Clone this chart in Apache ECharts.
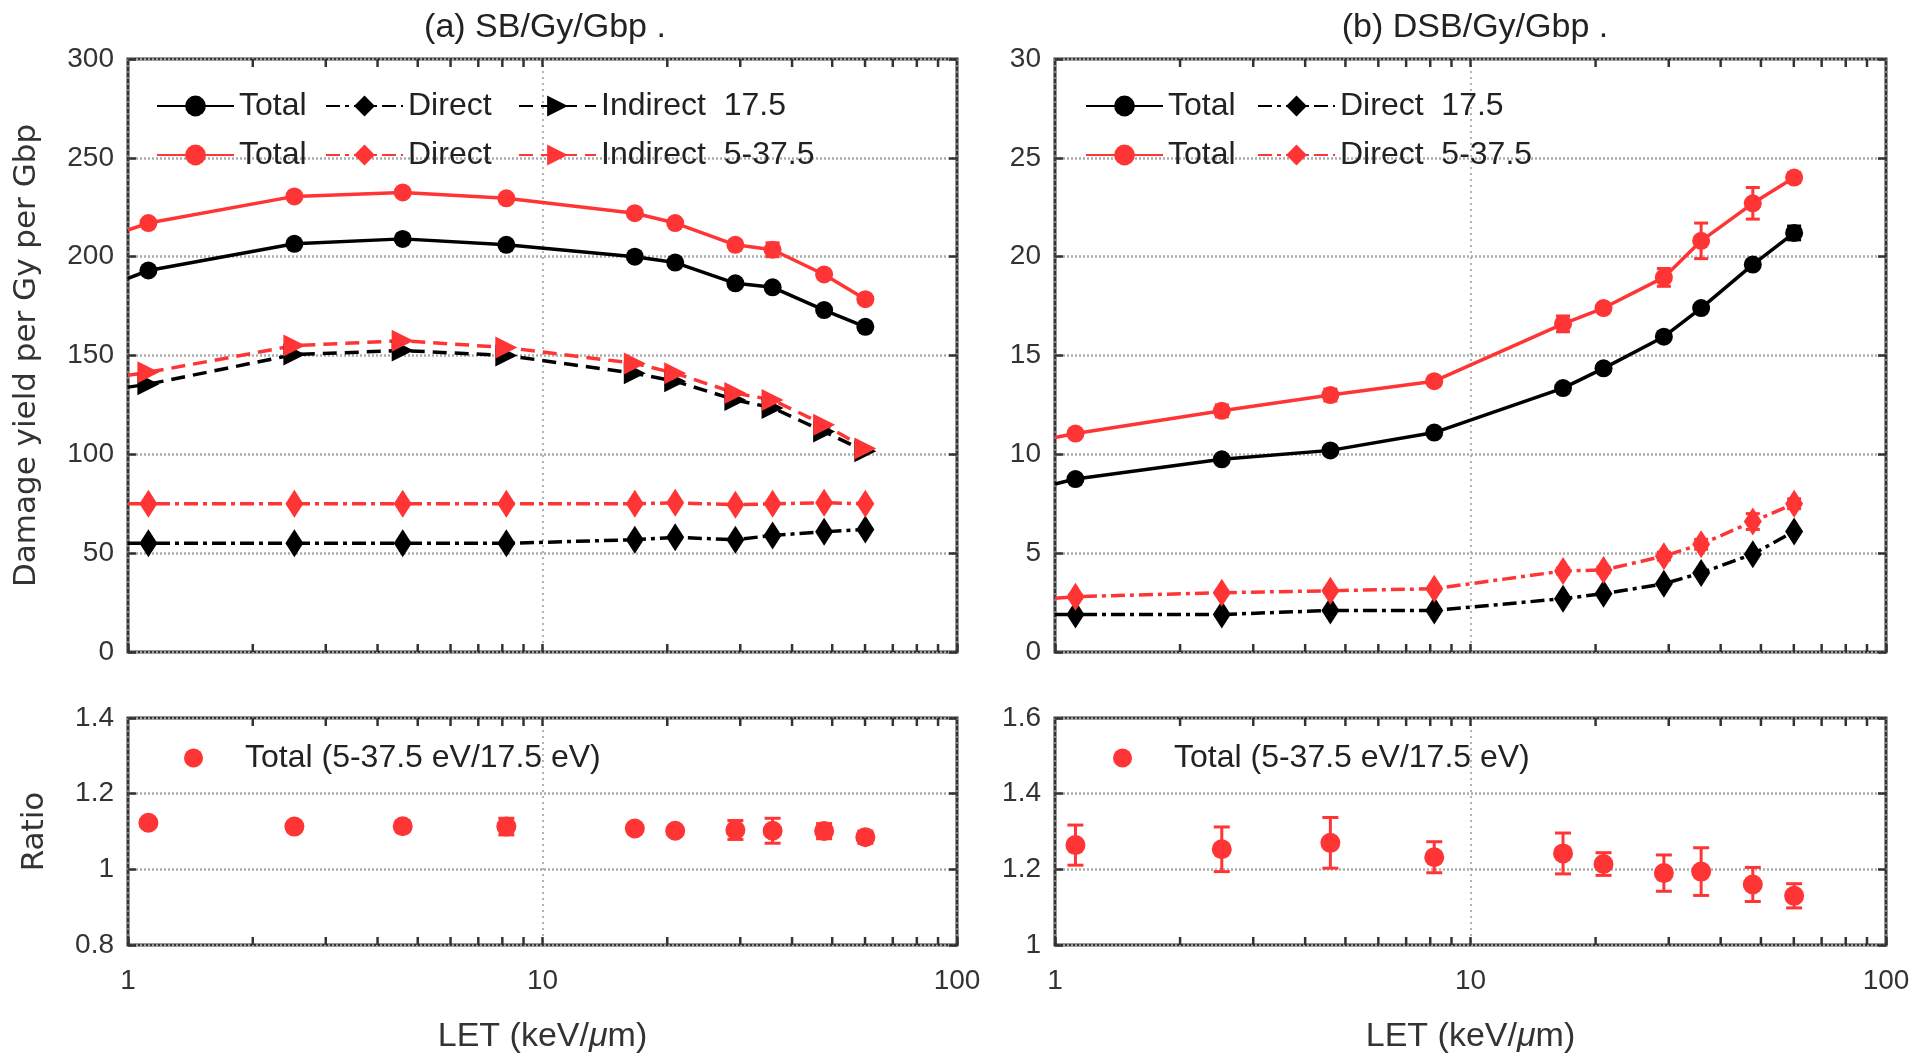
<!DOCTYPE html>
<html>
<head>
<meta charset="utf-8">
<script src="https://cdn.jsdelivr.net/npm/echarts@6/dist/echarts.min.js"></script>
<style>
html,body{margin:0;padding:0;background:#fff;}
#chart{width:1920px;height:1062px;}
</style>
</head>
<body>
<div id="chart"></div>
<script>
// ---------- DATA ----------
const LET = [1.12, 2.52, 4.6, 8.18, 16.7, 20.9, 29.2, 35.9, 47.8, 60.1];
const X_MINOR_TICKS = [2, 3, 4, 5, 6, 7, 8, 9, 20, 30, 40, 50, 60, 70, 80, 90];
const X_TOP_TICKS = [10];

// (a) SB/Gy/Gbp — value where each line meets the left edge (LET = 1), then the points
const SB_TOTAL_175_EDGE = 189;
const SB_TOTAL_175 = [193, 206.5, 209, 206, 200, 197, 186.5, 184.5, 173, 164.5];
const SB_DIRECT_175_EDGE = 55;
const SB_DIRECT_175 = [55, 55, 55, 55, 56.8, 58, 56.8, 59, 60.8, 62];
const SB_INDIRECT_175_EDGE = 134;
const SB_INDIRECT_175 = [135.5, 150.5, 152.5, 150, 141, 137, 127.5, 123.5, 111.5, 101.5];
const SB_TOTAL_5375_EDGE = 213.5;
const SB_TOTAL_5375 = [217, 230.5, 232.5, 229.5, 222, 217, 206, 203.5, 191, 178.5];
const SB_TOTAL_5375_ERR = [1, 1.5, 1.5, 1.5, 1.5, 1.5, 2, 3.5, 2, 1.5];
const SB_DIRECT_5375_EDGE = 75;
const SB_DIRECT_5375 = [75, 75, 75, 75, 75, 75.5, 74.5, 75, 75.5, 75];
const SB_INDIRECT_5375_EDGE = 140;
const SB_INDIRECT_5375 = [141.5, 155, 157.5, 154, 146, 141, 131, 127.5, 115, 103];

// (b) DSB/Gy/Gbp
const DSB_TOTAL_175_EDGE = 8.5;
const DSB_TOTAL_175 = [8.75, 9.75, 10.2, 11.1, 13.35, 14.35, 15.95, 17.4, 19.6, 21.2];
const DSB_TOTAL_175_ERR = [0.15, 0.15, 0.2, 0.15, 0.2, 0.2, 0.2, 0.2, 0.2, 0.35];
const DSB_DIRECT_175_EDGE = 1.9;
const DSB_DIRECT_175 = [1.9, 1.9, 2.1, 2.1, 2.7, 2.95, 3.45, 4.0, 4.95, 6.1];
const DSB_TOTAL_5375_EDGE = 10.85;
const DSB_TOTAL_5375 = [11.05, 12.2, 13.0, 13.7, 16.6, 17.4, 18.95, 20.8, 22.7, 24.0];
const DSB_TOTAL_5375_ERR = [0.15, 0.3, 0.3, 0.2, 0.4, 0.2, 0.45, 0.9, 0.8, 0.25];
const DSB_DIRECT_5375_EDGE = 2.72;
const DSB_DIRECT_5375 = [2.8, 3.0, 3.1, 3.2, 4.1, 4.15, 4.85, 5.45, 6.6, 7.5];
const DSB_DIRECT_5375_ERR = [0.1, 0.1, 0.1, 0.1, 0.15, 0.15, 0.2, 0.25, 0.4, 0.25];

// Ratios
const RATIO_SB = [1.123, 1.113, 1.114, 1.113, 1.108, 1.102, 1.104, 1.102, 1.101, 1.085];
const RATIO_SB_ERR = [0.005, 0.012, 0.013, 0.022, 0.012, 0.01, 0.025, 0.033, 0.02, 0.016];
const RATIO_DSB = [1.264, 1.253, 1.270, 1.232, 1.242, 1.214, 1.190, 1.194, 1.160, 1.130];
const RATIO_DSB_ERR = [0.053, 0.059, 0.067, 0.041, 0.054, 0.03, 0.048, 0.063, 0.045, 0.032];

// Axis ticks
const Y_SB = {min: 0, max: 300, interval: 50};
const Y_DSB = {min: 0, max: 30, interval: 5};
const Y_RATIO_SB = {min: 0.8, max: 1.4, interval: 0.2};
const Y_RATIO_DSB = {min: 1.0, max: 1.6, interval: 0.2};

// Text
const TITLES = ['(a) SB/Gy/Gbp .', '(b) DSB/Gy/Gbp .'];
const LEGEND_LABELS = {
  'SB Total 17.5': 'Total', 'SB Direct 17.5': 'Direct', 'SB Indirect 17.5': 'Indirect  17.5',
  'SB Total 5-37.5': 'Total', 'SB Direct 5-37.5': 'Direct', 'SB Indirect 5-37.5': 'Indirect  5-37.5',
  'DSB Total 17.5': 'Total', 'DSB Direct 17.5': 'Direct  17.5',
  'DSB Total 5-37.5': 'Total', 'DSB Direct 5-37.5': 'Direct  5-37.5',
  'Ratio SB': 'Total (5-37.5 eV/17.5 eV)', 'Ratio DSB': 'Total (5-37.5 eV/17.5 eV)'
};

// ---------- STYLE ----------
const RED = '#ff3535';
const BLACK = '#000000';
const FRAME = '#333333';
const FONT = "'Liberation Sans', Arial, sans-serif";
const NAME_FONT = "'DejaVu Sans', Verdana, sans-serif";

const GRIDS = [
  {left: 128, top: 59, width: 829, height: 593},
  {left: 1055, top: 59, width: 831, height: 593},
  {left: 128, top: 718, width: 829, height: 227},
  {left: 1055, top: 718, width: 831, height: 227}
];

const KIND = {
  total: {type: 'solid', symbol: 'circle', size: 18, rotate: 0},
  direct: {type: [14, 5, 4, 5], symbol: 'diamond', size: [18, 28], rotate: 0},
  indirect: {type: [14, 8], symbol: 'triangle', size: 22, rotate: -90}
};

function lineData(vals, edge) {
  const d = [{value: [1, edge], symbol: 'none'}];
  vals.forEach((v, i) => d.push([LET[i], v]));
  return d;
}
function lineSeries(name, gi, vals, edge, color, kind) {
  const k = KIND[kind];
  return {
    name: name, type: 'line', xAxisIndex: gi, yAxisIndex: gi,
    data: lineData(vals, edge),
    symbol: k.symbol, symbolSize: k.size, symbolRotate: k.rotate,
    showAllSymbol: true,
    lineStyle: {color: color, width: 3.5, type: k.type},
    itemStyle: {color: color, borderWidth: 0},
    clip: true, z: 5, silent: true, animation: false
  };
}
function errSeries(gi, vals, errs, color, cap) {
  return {
    type: 'custom', xAxisIndex: gi, yAxisIndex: gi, silent: true, z: 4, animation: false,
    data: LET.map((x, i) => [x, vals[i], errs[i]]),
    encode: {x: 0, y: 1},
    renderItem: function (params, api) {
      const x = api.value(0), y = api.value(1), e = api.value(2);
      const top = api.coord([x, y + e]);
      const bot = api.coord([x, y - e]);
      const st = {stroke: color, lineWidth: 3};
      return {type: 'group', children: [
        {type: 'line', shape: {x1: top[0], y1: top[1], x2: bot[0], y2: bot[1]}, style: st},
        {type: 'line', shape: {x1: top[0] - cap, y1: top[1], x2: top[0] + cap, y2: top[1]}, style: st},
        {type: 'line', shape: {x1: bot[0] - cap, y1: bot[1], x2: bot[0] + cap, y2: bot[1]}, style: st}
      ]};
    }
  };
}
function tickSeries(gi, vals, bottomToo) {
  return {
    type: 'custom', xAxisIndex: gi, yAxisIndex: gi, silent: true, z: 10, animation: false,
    data: vals.map(v => [v, 0]),
    encode: {x: 0, y: 1},
    clip: false,
    renderItem: function (params, api) {
      const cs = params.coordSys;
      const px = api.coord([api.value(0), 1])[0];
      const st = {stroke: FRAME, lineWidth: 2.5};
      const ch = [{type: 'line', shape: {x1: px, y1: cs.y, x2: px, y2: cs.y + 8}, style: st}];
      if (bottomToo) ch.push({type: 'line', shape: {x1: px, y1: cs.y + cs.height, x2: px, y2: cs.y + cs.height - 8}, style: st});
      return {type: 'group', children: ch};
    }
  };
}
function scatterSeries(name, gi, vals) {
  return {
    name: name, type: 'scatter', xAxisIndex: gi, yAxisIndex: gi, silent: true, z: 5, animation: false,
    data: LET.map((x, i) => [x, vals[i]]), symbol: 'circle', symbolSize: 20,
    itemStyle: {color: RED, opacity: 1}
  };
}

function xAxis(gi, showLabel, name) {
  return {
    type: 'log', logBase: 10, min: 1, max: 100, gridIndex: gi,
    axisLine: {show: false},
    axisTick: {show: true, inside: true, length: 8, lineStyle: {color: FRAME, width: 2.5}},
    axisLabel: {show: showLabel, fontFamily: FONT, fontSize: 28, color: '#333', margin: 22},
    splitLine: {show: true, lineStyle: {color: '#9a9a9a', width: 1.5, type: [2, 4]}},
    minorTick: {show: false},
    name: name || '', nameLocation: 'middle', nameGap: 75,
    nameTextStyle: {fontFamily: FONT, fontSize: 34, color: '#333',
      rich: {i: {fontFamily: FONT, fontSize: 34, fontStyle: 'italic', color: '#333'}}}
  };
}
function yAxis(gi, cfg, name, nameGap) {
  return {
    type: 'value', gridIndex: gi, min: cfg.min, max: cfg.max, interval: cfg.interval,
    axisLine: {show: false},
    axisTick: {show: true, inside: true, length: 8, lineStyle: {color: FRAME, width: 2.5}},
    axisLabel: {fontFamily: FONT, fontSize: 28, color: '#333', margin: 14},
    splitLine: {show: true, lineStyle: {color: '#ababab', width: 2.5, type: [2, 2]}},
    name: name || '', nameLocation: 'middle', nameGap: nameGap || 0,
    nameTextStyle: {fontFamily: NAME_FONT, fontSize: 31, color: '#333'}
  };
}
function yAxisRight(gi, cfg) {
  return {
    type: 'value', gridIndex: gi, min: cfg.min, max: cfg.max, interval: cfg.interval, position: 'right',
    axisLine: {show: false},
    axisTick: {show: true, inside: true, length: 8, lineStyle: {color: FRAME, width: 2.5}},
    axisLabel: {show: false}, splitLine: {show: false}
  };
}
function legend(name, left, top, iw, ih, extra) {
  return Object.assign({
    data: [name], left: left, top: top, orient: 'horizontal', padding: 0,
    itemWidth: iw, itemHeight: ih, itemGap: 0, selectedMode: false,
    formatter: n => LEGEND_LABELS[n],
    textStyle: {fontFamily: FONT, fontSize: 32, color: '#222'}
  }, extra || {});
}

const option = {
  backgroundColor: '#ffffff',
  animation: false,
  title: TITLES.map((t, i) => ({
    text: t, left: i === 0 ? 540 : 1470, top: 6, textAlign: 'center',
    textStyle: {fontFamily: FONT, fontSize: 34, fontWeight: 'normal', color: '#222'}
  })),
  grid: GRIDS.map(g => Object.assign({show: true, borderColor: FRAME, borderWidth: 3, backgroundColor: 'transparent'}, g)),
  xAxis: [
    xAxis(0, false), xAxis(1, false),
    xAxis(2, true, 'LET (keV/{i|μ}m)'), xAxis(3, true, 'LET (keV/{i|μ}m)')
  ],
  yAxis: [
    yAxis(0, Y_SB, 'Damage yield per Gy per Gbp', 86),
    yAxis(1, Y_DSB),
    yAxis(2, Y_RATIO_SB, 'Ratio', 78),
    yAxis(3, Y_RATIO_DSB),
    yAxisRight(0, Y_SB), yAxisRight(1, Y_DSB), yAxisRight(2, Y_RATIO_SB), yAxisRight(3, Y_RATIO_DSB)
  ],
  legend: [
    legend('SB Total 17.5', 156, 90, 77, 26),
    legend('SB Direct 17.5', 325, 90, 77, 26),
    legend('SB Indirect 17.5', 518, 90, 77, 26),
    legend('SB Total 5-37.5', 156, 139, 77, 26),
    legend('SB Direct 5-37.5', 325, 139, 77, 26),
    legend('SB Indirect 5-37.5', 518, 139, 77, 26),
    legend('DSB Total 17.5', 1085, 90, 77, 26),
    legend('DSB Direct 17.5', 1257, 90, 77, 26),
    legend('DSB Total 5-37.5', 1085, 139, 77, 26),
    legend('DSB Direct 5-37.5', 1257, 139, 77, 26),
    legend('Ratio SB', 184, 742, 19, 21, {textStyle: {fontFamily: FONT, fontSize: 32, color: '#222', padding: [0, 0, 0, 37]}}),
    legend('Ratio DSB', 1113, 742, 19, 21, {textStyle: {fontFamily: FONT, fontSize: 32, color: '#222', padding: [0, 0, 0, 37]}})
  ],
  series: [
    tickSeries(0, X_MINOR_TICKS, true), tickSeries(0, X_TOP_TICKS, false),
    tickSeries(1, X_MINOR_TICKS, true), tickSeries(1, X_TOP_TICKS, false),
    tickSeries(2, X_MINOR_TICKS, true), tickSeries(2, X_TOP_TICKS, false),
    tickSeries(3, X_MINOR_TICKS, true), tickSeries(3, X_TOP_TICKS, false),

    lineSeries('SB Total 17.5', 0, SB_TOTAL_175, SB_TOTAL_175_EDGE, BLACK, 'total'),
    lineSeries('SB Direct 17.5', 0, SB_DIRECT_175, SB_DIRECT_175_EDGE, BLACK, 'direct'),
    lineSeries('SB Indirect 17.5', 0, SB_INDIRECT_175, SB_INDIRECT_175_EDGE, BLACK, 'indirect'),
    lineSeries('SB Total 5-37.5', 0, SB_TOTAL_5375, SB_TOTAL_5375_EDGE, RED, 'total'),
    lineSeries('SB Direct 5-37.5', 0, SB_DIRECT_5375, SB_DIRECT_5375_EDGE, RED, 'direct'),
    lineSeries('SB Indirect 5-37.5', 0, SB_INDIRECT_5375, SB_INDIRECT_5375_EDGE, RED, 'indirect'),
    errSeries(0, SB_TOTAL_5375, SB_TOTAL_5375_ERR, RED, 7),

    lineSeries('DSB Total 17.5', 1, DSB_TOTAL_175, DSB_TOTAL_175_EDGE, BLACK, 'total'),
    lineSeries('DSB Direct 17.5', 1, DSB_DIRECT_175, DSB_DIRECT_175_EDGE, BLACK, 'direct'),
    lineSeries('DSB Total 5-37.5', 1, DSB_TOTAL_5375, DSB_TOTAL_5375_EDGE, RED, 'total'),
    lineSeries('DSB Direct 5-37.5', 1, DSB_DIRECT_5375, DSB_DIRECT_5375_EDGE, RED, 'direct'),
    errSeries(1, DSB_TOTAL_175, DSB_TOTAL_175_ERR, BLACK, 7),
    errSeries(1, DSB_TOTAL_5375, DSB_TOTAL_5375_ERR, RED, 7),
    errSeries(1, DSB_DIRECT_5375, DSB_DIRECT_5375_ERR, RED, 7),

    scatterSeries('Ratio SB', 2, RATIO_SB),
    errSeries(2, RATIO_SB, RATIO_SB_ERR, RED, 8),
    scatterSeries('Ratio DSB', 3, RATIO_DSB),
    errSeries(3, RATIO_DSB, RATIO_DSB_ERR, RED, 8)
  ]
};

const chart = echarts.init(document.getElementById('chart'), null, {renderer: 'canvas'});
chart.setOption(option);
</script>
</body>
</html>
